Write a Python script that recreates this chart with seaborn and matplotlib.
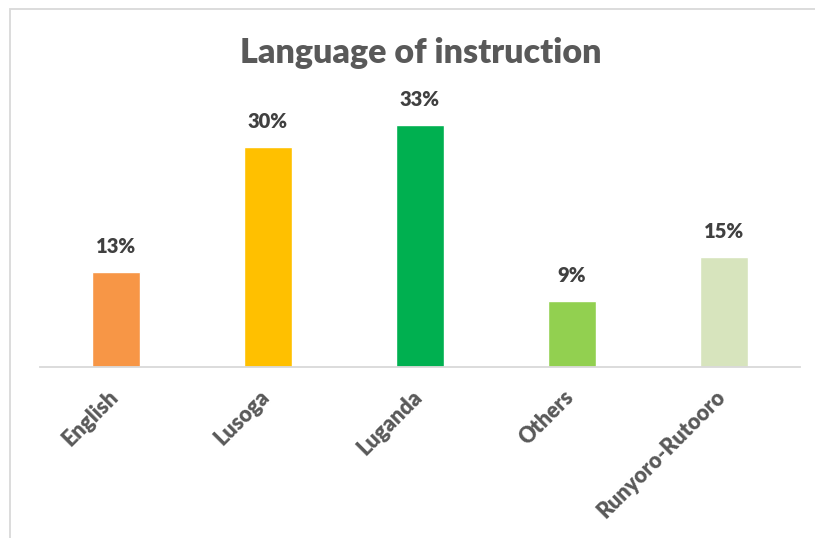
import matplotlib
matplotlib.use("Agg")
import matplotlib.pyplot as plt
from matplotlib.patches import Rectangle
from matplotlib.transforms import ScaledTranslation
import seaborn as sns
import pandas as pd

# Share of respondents by language of instruction
languages = ["English", "Lusoga", "Luganda", "Others", "Runyoro-Rutooro"]
shares = [13, 30, 33, 9, 15]
bar_colors = ["#F79646", "#FFC000", "#00B050", "#92D050", "#D7E4BD"]
title_text = "Language of instruction"

df = pd.DataFrame({"language": languages, "share": shares})

sns.set_theme(style="white")
plt.rcParams["font.family"] = ["Lato", "DejaVu Sans"]

W, H = 815, 538
fig = plt.figure(figsize=(W / 100, H / 100), dpi=100)
fig.patch.set_facecolor("white")

# plot area: baseline at y=367 px, categories spread from x=40 to x=800 px
base_px = 367
top_px = 60
px_per_unit = 7.33
ax = fig.add_axes([40 / W, 1 - base_px / H, 760 / W, (base_px - top_px) / H])

sns.barplot(data=df, x="language", y="share", hue="language",
            palette=bar_colors, width=0.316, saturation=1, legend=False, ax=ax)

ax.set_ylim(0, (base_px - top_px) / px_per_unit)
ax.set_xlim(-0.5, len(languages) - 0.5)
ax.set_xlabel("")
ax.set_ylabel("")
ax.set_yticks([])
for side in ["left", "right", "top"]:
    ax.spines[side].set_visible(False)
ax.spines["bottom"].set_color("#D9D9D9")
ax.spines["bottom"].set_linewidth(1.3)
ax.patch.set_alpha(0)

ax.tick_params(axis="x", length=0, pad=14)
ax.set_xticks(range(len(languages)))
ax.set_xticklabels(languages, rotation=45, ha="right", rotation_mode="default",
                   fontsize=15.5, fontweight="heavy", color="#595959")
shift = ScaledTranslation(6 / 100, 0, fig.dpi_scale_trans)
for lbl in ax.get_xticklabels():
    lbl.set_transform(lbl.get_transform() + shift)

for i, v in enumerate(shares):
    ax.annotate(f"{v}%", xy=(i, v), xytext=(0, 13.5), textcoords="offset points",
                ha="center", va="baseline", fontsize=14.5, fontweight="heavy",
                color="#404040")

fig.text(421 / W, 1 - 53 / H, title_text, ha="center", va="center",
         fontsize=24.5, fontweight="heavy", color="#595959")

# chart frame
fig.patches.append(Rectangle((10 / W, -0.1), 1.2, 1 - 9 / H + 0.1,
                             transform=fig.transFigure, fill=False,
                             edgecolor="#D9D9D9", linewidth=1.3))

fig.savefig("out.png", dpi=100)
